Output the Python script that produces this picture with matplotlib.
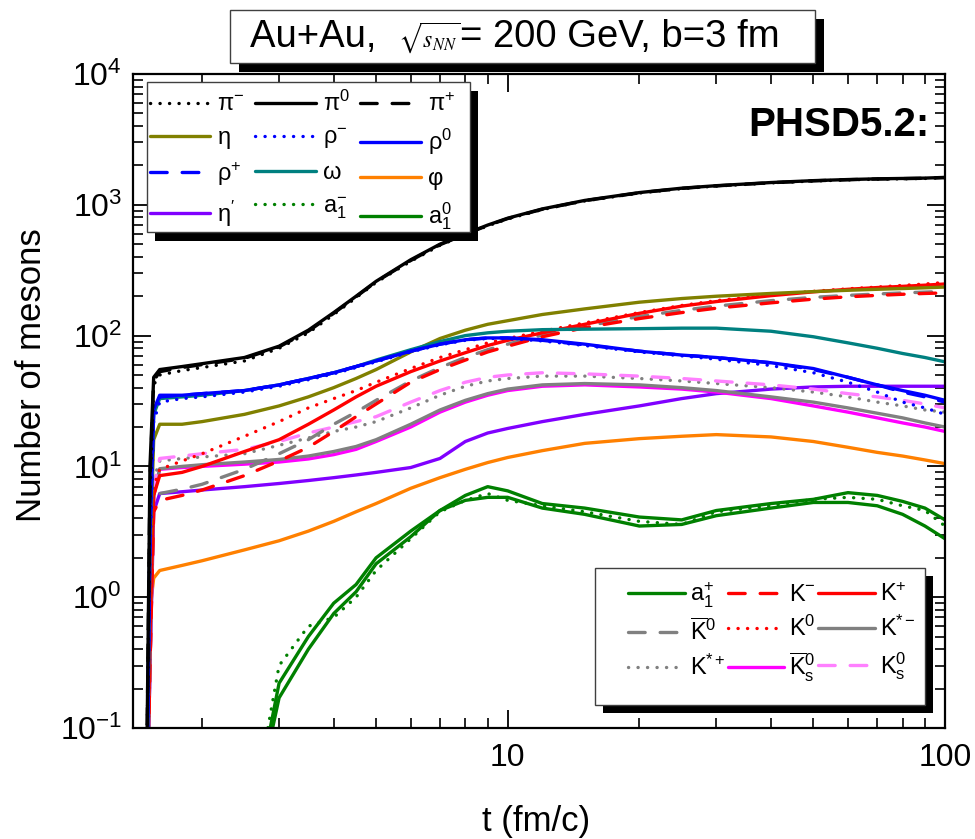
import numpy as np
import matplotlib
matplotlib.use('Agg')
from matplotlib import pyplot as plt
from matplotlib.patches import Rectangle
from matplotlib.offsetbox import TextArea, HPacker, AnchoredOffsetbox
from matplotlib.ticker import FixedLocator, FixedFormatter, LogLocator, NullFormatter

plt.rcParams['font.family'] = 'Liberation Sans'
plt.rcParams['mathtext.fontset'] = 'stix'

# time grid (fm/c) and multiplicities per meson species
t_fm = [1.49, 1.52, 1.55, 1.6, 1.8, 2.0, 2.5, 3.0, 3.5, 4.0, 4.5, 5.0, 6.0, 7.0,
        8.0, 9.0, 10, 12, 15, 20, 25, 30, 40, 50, 60, 70, 80, 90, 100]

pi_minus = [0.02, 6, 42, 50, 54, 57, 64, 80, 105, 145, 195, 255, 370, 490, 590, 690,
            780, 920, 1070, 1230, 1330, 1390, 1470, 1520, 1550, 1570, 1580, 1590, 1610]
pi_zero = [0.02, 10, 48, 55, 58, 61, 68, 83, 110, 150, 200, 260, 380, 500, 600, 700,
           790, 930, 1080, 1240, 1340, 1400, 1480, 1530, 1560, 1580, 1590, 1600, 1620]
pi_plus = [0.02, 8, 45, 53, 57, 60, 67, 82, 108, 148, 198, 258, 375, 495, 595, 695,
           785, 925, 1075, 1235, 1335, 1395, 1475, 1525, 1555, 1575, 1585, 1595, 1615]
eta = [0.01, 2, 16, 21, 21, 22, 25, 29, 34, 40, 47, 55, 75, 95, 110, 122,
       130, 145, 160, 180, 192, 200, 210, 217, 222, 226, 229, 232, 235]
rho_minus = [0.01, 2, 22, 31, 33, 34, 37, 41, 46, 51, 57, 63, 75, 85, 92, 95,
             95, 91, 84, 75, 70, 66, 59, 52, 44, 37, 31, 28, 25]
rho_zero = [0.01, 3, 27, 35, 35, 36, 38, 42, 47, 52, 58, 64, 76, 86, 93, 96,
            96, 93, 86, 76, 71, 68, 62, 56, 48, 42, 38, 35, 32]
rho_plus = [0.01, 3, 26, 34, 35, 36, 38, 42, 47, 52, 58, 64, 76, 86, 93, 96,
            96, 92, 85, 76, 71, 68, 62, 55, 48, 42, 37, 34, 31]
omega = [0.01, 3, 25, 33, 34, 35, 38, 42, 47, 52, 58, 65, 78, 90, 100, 105,
         108, 111, 112, 113, 114, 114, 108, 98, 88, 80, 73, 68, 63]
phi = [0.01, 0.8, 1.4, 1.6, 1.75, 1.9, 2.3, 2.7, 3.2, 3.8, 4.5, 5.2, 6.8, 8.2, 9.5, 10.7,
       11.7, 13.2, 15, 16.3, 17, 17.5, 16.8, 15.5, 14, 12.8, 12, 11.2, 10.5]
eta_prime = [0.01, 0.3, 4.5, 6.2, 6.4, 6.6, 7.0, 7.4, 7.8, 8.2, 8.6, 9.0, 9.8, 11.5, 15.5, 18,
             19.5, 22, 25, 29, 33, 36, 39, 40.5, 41, 41, 41, 41, 41]
a1_minus = [0.01, 0.01, 0.01, 0.01, 0.01, 0.01, 0.01, 0.3, 0.6, 0.7, 1.0, 1.6, 2.8, 4.5, 5.5, 6.2,
            5.5, 5.0, 4.5, 3.8, 3.6, 4.5, 5.0, 5.6, 5.8, 5.6, 5.0, 4.6, 3.5]
a1_zero = [0.01, 0.01, 0.01, 0.01, 0.01, 0.01, 0.01, 0.17, 0.4, 0.75, 1.1, 1.8, 2.9, 4.6, 5.5, 5.8,
           5.8, 4.8, 4.3, 3.5, 3.6, 4.2, 4.8, 5.3, 5.3, 5.0, 4.3, 3.5, 2.8]
a1_plus = [0.01, 0.01, 0.01, 0.01, 0.01, 0.01, 0.01, 0.22, 0.5, 0.9, 1.25, 2.0, 3.2, 4.6, 6.0, 7.0,
           6.5, 5.2, 4.8, 4.1, 3.9, 4.6, 5.2, 5.6, 6.3, 6.0, 5.4, 4.8, 3.9]
k_minus = [0.01, 0.3, 4.5, 5.5, 6.0, 6.6, 8.5, 11, 14, 18.5, 24, 30, 44, 55, 65, 75,
           83, 98, 115, 135, 150, 162, 178, 190, 198, 203, 207, 210, 212]
k_plus = [0.01, 0.5, 6, 8.5, 9, 10, 13, 16, 21, 27, 34, 41, 53, 64, 74, 84,
          92, 105, 122, 148, 168, 182, 202, 216, 226, 233, 238, 243, 248]
kbar_zero = [0.01, 0.3, 5, 6.2, 6.7, 7.3, 9.5, 12.5, 16, 21, 26, 32, 45, 57, 68, 78,
             86, 101, 118, 140, 156, 168, 185, 196, 203, 208, 212, 215, 218]
k_zero = [0.01, 0.5, 7, 9.5, 11, 12.5, 17, 22, 28, 33, 38, 44, 56, 68, 78, 88,
          95, 108, 125, 150, 170, 185, 205, 218, 228, 235, 242, 248, 255]
kstar_minus = [0.01, 0.3, 6, 9.6, 10, 10.3, 10.8, 11.3, 12, 13, 14.2, 16, 21, 27, 32, 36,
               39, 42, 43, 42, 40, 38, 34, 31, 28, 25.5, 23.5, 21.5, 20]
kstar_plus = [0.01, 0.3, 8, 11, 11.5, 11.8, 12.5, 14.5, 16.5, 18.5, 20, 22, 28, 35, 41, 45,
              47, 49, 49, 47, 45, 43, 40, 37, 34, 31, 29, 27, 26]
kbar_zero_s = [0.01, 0.3, 6, 9.5, 9.8, 10, 10.4, 10.8, 11.4, 12.3, 13.5, 15.5, 20, 26, 31, 35,
               38, 41, 42, 40.5, 39, 37, 33, 29, 26, 23.5, 21.5, 20, 18.5]
k_zero_s = [0.01, 0.3, 7, 11.5, 12, 12.5, 13.5, 15.5, 18, 20, 22, 24, 31, 38, 44, 48,
            50, 52, 51, 49, 47, 45, 42, 39, 36, 34, 32, 30, 28]

y_ticks = [0.1, 1, 10, 100, 1000, 10000]
y_ticklabels = [r'$\mathregular{10^{-1}}$', r'$\mathregular{10^{0}}$', r'$\mathregular{10^{1}}$',
                r'$\mathregular{10^{2}}$', r'$\mathregular{10^{3}}$', r'$\mathregular{10^{4}}$']
x_ticks = [10, 100]
x_ticklabels = ['10', '100']

DOT = (0, (0.05, 2.8))
DASH = (0, (5, 4.5))

fig = plt.figure(figsize=(9.75, 8.39), dpi=100)
ax = fig.add_axes([0.1364, 0.1323, 0.8328, 0.7795])


def curve(y, color, ls, label):
    line, = ax.plot(t_fm, y, color=color, linestyle=ls, lw=2.4, label=label,
                    dash_capstyle='round', solid_capstyle='round')
    return line


h_phi = curve(phi, '#ff8000', '-', 'φ')
h_a1m = curve(a1_minus, '#008000', DOT, r'$\mathregular{a_1^{-}}$')
h_a10 = curve(a1_zero, '#008000', '-', r'$\mathregular{a_1^{0}}$')
h_a1p = curve(a1_plus, '#008000', '-', r'$\mathregular{a_1^{+}}$')
h_etap = curve(eta_prime, '#8000ff', '-', r'$\mathregular{η^{\prime}}$')
h_kbs = curve(kbar_zero_s, '#ff00ff', '-', r'$\mathregular{\overline{K}^{0}_{s}}$')
h_ksm = curve(kstar_minus, '#808080', '-', r'$\mathregular{K^{*-}}$')
h_ksp = curve(kstar_plus, '#808080', DOT, r'$\mathregular{K^{*+}}$')
h_k0s = curve(k_zero_s, '#ff80ff', DASH, r'$\mathregular{K^{0}_{s}}$')
h_kb0 = curve(kbar_zero, '#808080', DASH, r'$\mathregular{\overline{K}^{0}}$')
h_km = curve(k_minus, '#ff0000', DASH, r'$\mathregular{K^{-}}$')
h_k0 = curve(k_zero, '#ff0000', DOT, r'$\mathregular{K^{0}}$')
h_kp = curve(k_plus, '#ff0000', '-', r'$\mathregular{K^{+}}$')
h_eta = curve(eta, '#808000', '-', 'η')
h_omg = curve(omega, '#008080', '-', 'ω')
h_rhop = curve(rho_plus, '#0000ff', DASH, r'$\mathregular{ρ^{+}}$')
h_rhom = curve(rho_minus, '#0000ff', DOT, r'$\mathregular{ρ^{-}}$')
h_rho0 = curve(rho_zero, '#0000ff', '-', r'$\mathregular{ρ^{0}}$')
h_pim = curve(pi_minus, 'black', DOT, r'$\mathregular{π^{-}}$')
h_pip = curve(pi_plus, 'black', DASH, r'$\mathregular{π^{+}}$')
h_pi0 = curve(pi_zero, 'black', '-', r'$\mathregular{π^{0}}$')

ax.set_xscale('log')
ax.set_yscale('log')
ax.set_xlim(1.39, 100)
ax.set_ylim(0.1, 1e4)

ax.xaxis.set_major_locator(FixedLocator(x_ticks))
ax.xaxis.set_major_formatter(FixedFormatter(x_ticklabels))
ax.yaxis.set_major_locator(FixedLocator(y_ticks))
ax.yaxis.set_major_formatter(FixedFormatter(y_ticklabels))
for axis in (ax.xaxis, ax.yaxis):
    axis.set_minor_locator(LogLocator(base=10, subs=np.arange(2, 10), numticks=20))
    axis.set_minor_formatter(NullFormatter())

ax.tick_params(which='both', direction='in', top=True, right=True)
ax.tick_params(which='major', length=13, width=1.3, labelsize=23)
ax.tick_params(which='minor', length=7, width=1.2)
ax.tick_params(axis='x', which='major', pad=11)
ax.tick_params(axis='y', which='major', pad=8)
for sp in ax.spines.values():
    sp.set_linewidth(1.6)

ax.set_xlabel('t (fm/c)', fontsize=25)
ax.set_ylabel('Number of mesons', fontsize=25)
ax.xaxis.set_label_coords(0.497, -0.118)
ax.yaxis.set_label_coords(-0.105, 0.539)

ax.text(0.981, 0.922, 'PHSD5.2:', transform=ax.transAxes, ha='right', va='center',
        fontsize=29, fontweight='bold')


def boxed(x0, y0, x1, y1, dx, dy, transform, parent):
    shadow = Rectangle((x0 + dx, y0 - dy), x1 - x0, y1 - y0, transform=transform,
                       facecolor='black', edgecolor='none', zorder=3, clip_on=False)
    frame = Rectangle((x0, y0), x1 - x0, y1 - y0, transform=transform,
                      facecolor='white', edgecolor='#404040', lw=1.0, zorder=3.5, clip_on=False)
    parent.add_artist(shadow)
    parent.add_artist(frame)


# legend boxes with hard drop shadows
boxed(0.0172, 0.7584, 0.4150, 0.9878, 0.0099, 0.0138, ax.transAxes, ax)
boxed(0.5690, 0.0352, 0.9754, 0.2446, 0.0099, 0.0122, ax.transAxes, ax)

rows_top = [[h_pim, h_pi0, h_pip], [h_eta, h_rhom, h_rho0],
            [h_rhop, h_omg, h_phi], [h_etap, h_a1m, h_a10]]
hs = [rows_top[r][c] for c in range(3) for r in range(4)]
leg1 = ax.legend(hs, [h.get_label() for h in hs], ncol=3, loc='upper left',
                 bbox_to_anchor=(0.021, 0.9744), frameon=False, fontsize=17,
                 handlelength=2.55, handletextpad=0.3, columnspacing=0.45,
                 labelspacing=0.46, borderpad=0, borderaxespad=0)
leg1.set_zorder(5)
ax.add_artist(leg1)

rows_bot = [[h_a1p, h_km, h_kp], [h_kb0, h_k0, h_ksm], [h_ksp, h_kbs, h_k0s]]
hs = [rows_bot[r][c] for c in range(3) for r in range(3)]
leg2 = ax.legend(hs, [h.get_label() for h in hs], ncol=3, loc='upper left',
                 bbox_to_anchor=(0.610, 0.226), frameon=False, fontsize=17,
                 handlelength=2.4, handletextpad=0.2, columnspacing=0.1,
                 labelspacing=0.41, borderpad=0, borderaxespad=0)
leg2.set_zorder(5)

# title box
boxed(0.2359, 0.9249, 0.8359, 0.9881, 0.0092, 0.0107, fig.transFigure, fig)
parts = [TextArea('Au+Au,  ', textprops=dict(size=27.5)),
         TextArea(r'$\sqrt{s_{NN}}$', textprops=dict(size=17)),
         TextArea('= 200 GeV, b=3 fm', textprops=dict(size=27.5))]
title = AnchoredOffsetbox(loc='center', child=HPacker(children=parts, align='baseline', pad=0, sep=0),
                          frameon=False, pad=0, borderpad=0, bbox_to_anchor=(0.528, 0.9555),
                          bbox_transform=fig.transFigure)
title.set_zorder(6)
fig.add_artist(title)

fig.savefig('out.png', dpi=100)
